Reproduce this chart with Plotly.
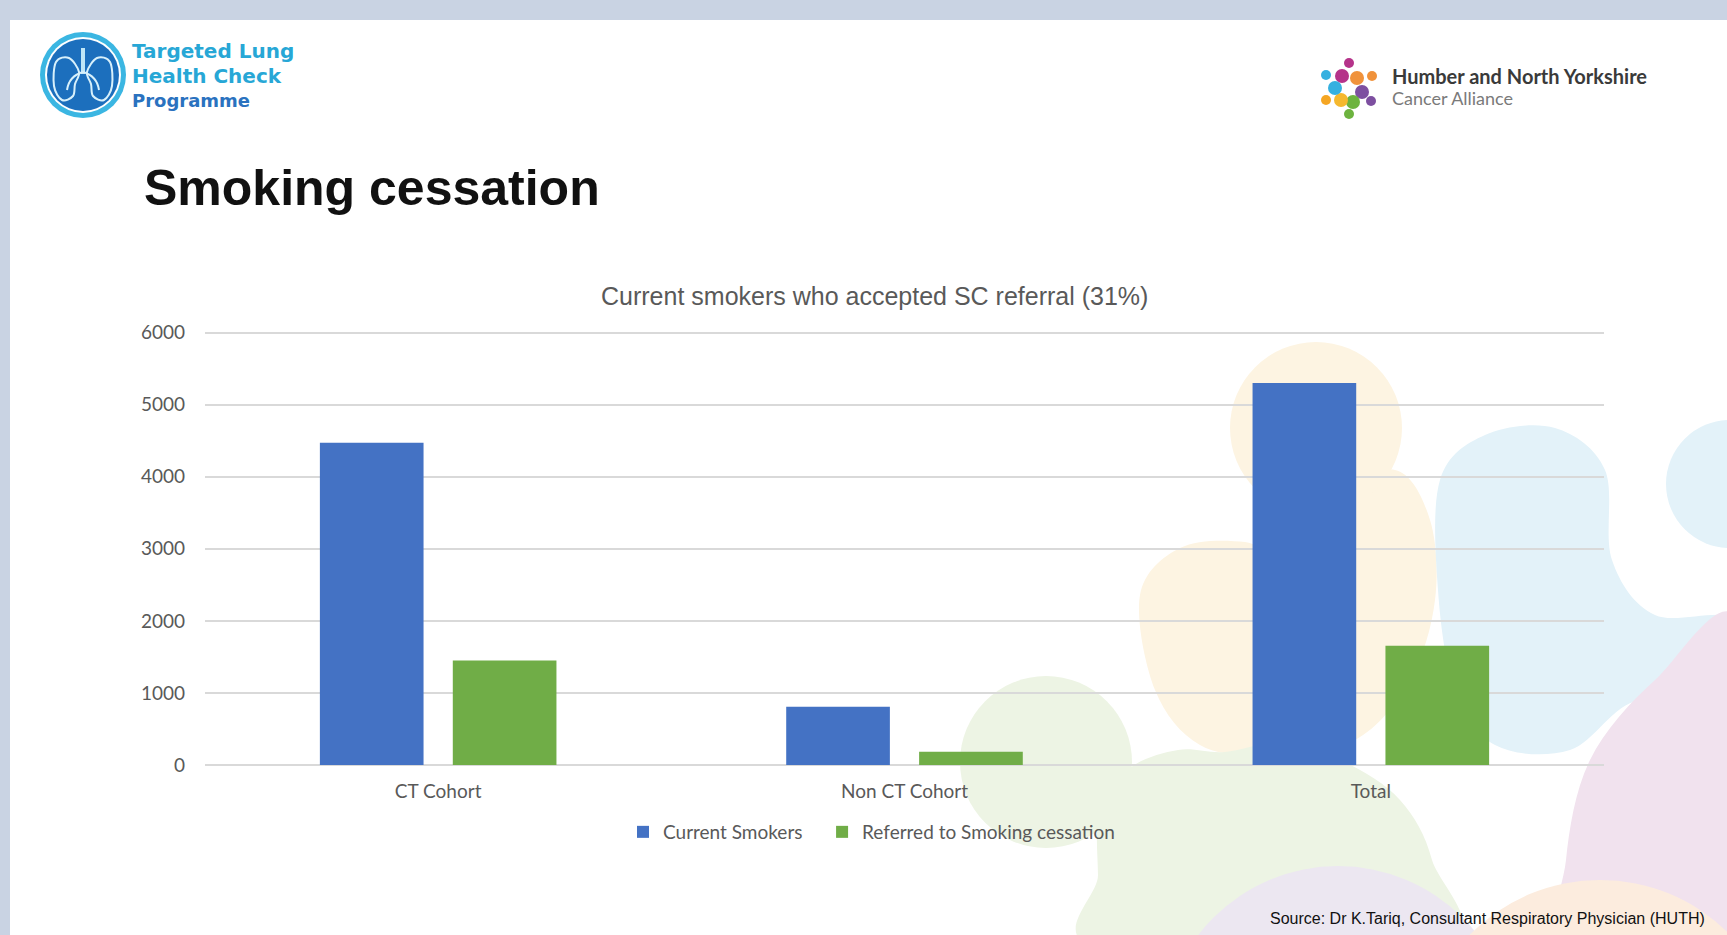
import plotly.graph_objects as go

# ---------------- data ----------------
categories = ["CT Cohort", "Non CT Cohort", "Total"]
current_smokers = [4470, 810, 5300]
referred_sc = [1450, 185, 1655]
series_names = ["Current Smokers", "Referred to Smoking cessation"]
y_ticks = [0, 1000, 2000, 3000, 4000, 5000, 6000]
y_max = 6050

# ---------------- geometry helpers (pixel -> paper) ----------------
W, H = 1727, 935
ML, MR, MT, MB = 205, 123, 329, 170
PW, PH = W - ML - MR, H - MT - MB


def X(px):
    return (px - ML) / PW


def Y(py):
    return (H - MB - py) / PH


def smooth_path(pts):
    n = len(pts)
    s = f"M{X(pts[0][0]):.5f},{Y(pts[0][1]):.5f}"
    for i in range(n):
        p0, p1, p2, p3 = pts[i - 1], pts[i], pts[(i + 1) % n], pts[(i + 2) % n]
        c1 = (p1[0] + (p2[0] - p0[0]) / 6, p1[1] + (p2[1] - p0[1]) / 6)
        c2 = (p2[0] - (p3[0] - p1[0]) / 6, p2[1] - (p3[1] - p1[1]) / 6)
        s += (f" C{X(c1[0]):.5f},{Y(c1[1]):.5f} {X(c2[0]):.5f},{Y(c2[1]):.5f}"
              f" {X(p2[0]):.5f},{Y(p2[1]):.5f}")
    return s + " Z"


def circle(cx, cy, r, fill, line=None, lw=0, layer="below"):
    return dict(type="circle", xref="paper", yref="paper",
                x0=X(cx - r), x1=X(cx + r), y0=Y(cy + r), y1=Y(cy - r),
                fillcolor=fill, line=dict(color=line or fill, width=lw), layer=layer)


def blob(pts, fill):
    return dict(type="path", xref="paper", yref="paper", path=smooth_path(pts),
                fillcolor=fill, line=dict(width=0), layer="below")


fig = go.Figure()
fig.add_trace(go.Bar(x=categories, y=current_smokers,
                     name=series_names[0] + "\u00a0\u00a0\u00a0",
                     marker=dict(color="#4472c4", line=dict(width=0))))
fig.add_trace(go.Bar(x=categories, y=referred_sc, name=series_names[1],
                     marker=dict(color="#70ad47", line=dict(width=0))))

shapes = []
# slide (white) on a blue-grey frame
shapes.append(dict(type="rect", xref="paper", yref="paper", x0=X(10), x1=X(1727),
                   y0=Y(935), y1=Y(20), fillcolor="white", line=dict(width=0), layer="below"))
# decorative pastel blobs
YEL = "rgb(253,244,226)"
BLU = "rgb(227,242,249)"
PNK = "rgb(241,226,238)"
GRN = "rgb(237,244,228)"
LAV = "rgb(236,231,241)"
PCH = "rgb(252,236,222)"
shapes.append(blob([(1140, 595), (1180, 548), (1245, 542), (1290, 560), (1330, 500),
                    (1395, 470), (1430, 520), (1435, 600), (1410, 680), (1355, 740),
                    (1270, 755), (1200, 745), (1155, 690)], YEL))
shapes.append(circle(1316, 428, 86, YEL))
shapes.append(blob([(1440, 480), (1485, 435), (1555, 428), (1605, 470), (1612, 560),
                    (1655, 615), (1740, 622), (1740, 720), (1640, 700), (1570, 750),
                    (1495, 745), (1455, 690), (1438, 590)], BLU))
shapes.append(circle(1730, 484, 64, BLU))
shapes.append(blob([(1740, 625), (1745, 950), (1570, 950), (1566, 860), (1590, 760),
                    (1655, 680)], PNK))
shapes.append(blob([(1102, 950), (1098, 875), (1100, 810), (1130, 768), (1178, 750),
                    (1225, 752), (1285, 742), (1345, 762), (1400, 800), (1432, 860),
                    (1440, 950)], GRN))
shapes.append(circle(1046, 762, 86, GRN))
shapes.append(circle(1338, 1042, 176, LAV))
shapes.append(circle(1600, 1062, 182, PCH))

# left logo: lungs roundel
shapes.append(circle(83, 75, 43, "#3bb6e2", layer="above"))
shapes.append(circle(83, 75, 38, "white", layer="above"))
shapes.append(circle(83, 75, 36, "#1c6fbd", layer="above"))
shapes.append(dict(type="line", xref="paper", yref="paper", x0=X(83), x1=X(83),
                   y0=Y(48), y1=Y(74), line=dict(color="#bfe6f7", width=4), layer="above"))
for side in (-1, 1):
    pts = [(83 + side * 4, 72), (83 + side * 14, 58), (83 + side * 27, 62),
           (83 + side * 29, 86), (83 + side * 21, 100), (83 + side * 10, 96),
           (83 + side * 8, 84)]
    shapes.append(dict(type="path", xref="paper", yref="paper", path=smooth_path(pts),
                       fillcolor="rgba(0,0,0,0)", line=dict(color="#d7f0fb", width=2),
                       layer="above"))
    shapes.append(dict(type="path", xref="paper", yref="paper",
                       path=(f"M{X(83):.5f},{Y(72):.5f} Q{X(83 + side * 14):.5f},{Y(76):.5f}"
                             f" {X(83 + side * 16):.5f},{Y(90):.5f}"),
                       line=dict(color="#d7f0fb", width=2), layer="above"))

# right logo: coloured people ring
dots = [((1349, 63), 5, "#b5338a"), ((1372, 76), 5, "#f0923b"), ((1371, 101), 5, "#7d4fa0"),
        ((1349, 114), 5, "#6db33f"), ((1326, 100), 5, "#f5a623"), ((1326, 75), 5, "#35b0e0"),
        ((1342, 76), 7, "#b5338a"), ((1357, 78), 7, "#f0923b"), ((1362, 92), 7, "#7d4fa0"),
        ((1353, 102), 7, "#6db33f"), ((1341, 100), 7, "#f5b82e"), ((1335, 88), 7, "#35b0e0")]
for (cx, cy), r, c in dots:
    shapes.append(circle(cx, cy, r, c, layer="above"))

annotations = [
    dict(text="<b>Smoking cessation</b>", x=X(143), y=Y(188), xanchor="left", yanchor="middle",
         font=dict(family="Liberation Sans, Arial", size=50, color="#111111")),
    dict(text="Current smokers who accepted SC referral (31%)", x=X(874), y=Y(296),
         xanchor="center", yanchor="middle",
         font=dict(family="Liberation Sans, Arial", size=25, color="#595959")),
    dict(text="Source: Dr K.Tariq, Consultant Respiratory Physician (HUTH)", x=X(1706), y=Y(918),
         xanchor="right", yanchor="middle",
         font=dict(family="Liberation Sans, Arial", size=16, color="#111111")),
    dict(text="<b>Targeted Lung</b>", x=X(131), y=Y(51), xanchor="left", yanchor="middle",
         font=dict(family="DejaVu Sans", size=20, color="#27a7d6")),
    dict(text="<b>Health Check</b>", x=X(131), y=Y(76), xanchor="left", yanchor="middle",
         font=dict(family="DejaVu Sans", size=20, color="#27a7d6")),
    dict(text="<b>Programme</b>", x=X(131), y=Y(100), xanchor="left", yanchor="middle",
         font=dict(family="DejaVu Sans", size=18, color="#2a72bf")),
    dict(text="<b>Humber and North Yorkshire</b>", x=X(1391), y=Y(76), xanchor="left",
         yanchor="middle", font=dict(family="Lato", size=20, color="#3a3a3a")),
    dict(text="Cancer Alliance", x=X(1391), y=Y(98), xanchor="left", yanchor="middle",
         font=dict(family="Lato", size=18, color="#7a7a7a")),
]
for a in annotations:
    a.update(xref="paper", yref="paper", showarrow=False, borderpad=0)

fig.update_layout(
    width=W, height=H,
    margin=dict(l=ML, r=MR, t=MT, b=MB, pad=0),
    paper_bgcolor="#c9d3e3",
    plot_bgcolor="rgba(0,0,0,0)",
    barmode="group", bargap=0.43, bargroupgap=0.22,
    shapes=shapes, annotations=annotations,
    showlegend=True,
    legend=dict(orientation="h", x=X(623), xanchor="left", y=Y(832), yanchor="middle",
                font=dict(family="Lato", size=19, color="#595959"), bgcolor="rgba(0,0,0,0)",
                itemwidth=30, traceorder="normal"),
    font=dict(family="Lato", color="#595959"),
)
fig.update_xaxes(showgrid=False, showline=False, zeroline=False, ticks="",
                 tickfont=dict(family="Lato", size=19, color="#595959"), ticklabelstandoff=13)
fig.update_yaxes(range=[0, y_max], tickvals=y_ticks, showgrid=True, gridcolor="#d9d9d9",
                 gridwidth=1.5, zeroline=True, zerolinecolor="#d9d9d9", zerolinewidth=1.5,
                 showline=False, ticks="", ticklabelstandoff=19,
                 tickfont=dict(family="Lato", size=19, color="#595959"))

fig.write_html("out.html")
